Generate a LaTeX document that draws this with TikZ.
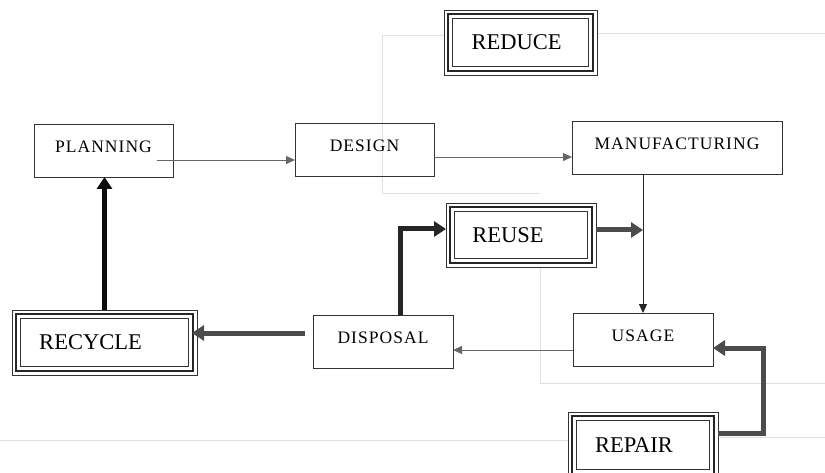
\documentclass[tikz,border=0pt]{standalone}
\usepackage{fontspec}
\setmainfont{Liberation Serif}
\newfontfamily\boxfont[LetterSpace=6]{Liberation Serif}
\usetikzlibrary{arrows.meta,calc}
\begin{document}
\begin{tikzpicture}[x=1pt,y=-1pt,
  every node/.style={inner sep=0pt,outer sep=0pt},
  smallbox/.style={draw=black!80,line width=0.9pt,minimum height=53pt,font=\boxfont\fontsize{17.5}{20}\selectfont},
  bigbox/.style={draw=black!80,line width=0.8pt,font=\fontsize{22.5}{26}\selectfont},
  thinarrow/.style={draw=black!60,line width=0.8pt,-{Triangle[length=9pt,width=8pt]}},
  thickarrow/.style={draw=black!70,line width=5pt,line join=miter,-{Triangle[length=12pt,width=15pt]}},
  faint/.style={draw=black!12,line width=0.8pt},
  inner1/.style={draw=black!85,line width=2.6pt},
  inner2/.style={draw=black!80,line width=0.8pt}]
\useasboundingbox (0,0) rectangle (825,473);
\clip (0,0) rectangle (825,473);
% faint background lines
\draw[faint] (444,35) -- (382,35) -- (382,193) -- (540,193);
\draw[faint] (597,33) -- (825,33);
\draw[faint] (540,267) -- (540,383) -- (825,383);
\draw[faint] (0,440) -- (568,440);
\draw[faint] (718,437) -- (825,437);
% plain boxes
\node[smallbox,minimum width=139pt] (plan) at (103.5,150.5) {\raisebox{8pt}{PLANNING}};
\node[smallbox,minimum width=139pt] (design) at (364.5,149.5) {\raisebox{8pt}{DESIGN}};
\node[smallbox,minimum width=210pt] (manu) at (677,147.5) {\raisebox{8pt}{MANUFACTURING}};
\node[smallbox,minimum width=140pt] (usage) at (643,339.5) {\raisebox{8pt}{USAGE}};
\node[smallbox,minimum width=140pt] (disp) at (383,341.5) {\raisebox{8pt}{DISPOSAL}};
% triple boxes
\node[bigbox,minimum width=153pt,minimum height=65pt] (reduce) at (520.5,42.5) {\hspace*{-8pt}REDUCE};
\node[bigbox,minimum width=150pt,minimum height=64pt] (reuse) at (521,235) {\hspace*{-26pt}REUSE};
\node[bigbox,minimum width=185pt,minimum height=65pt] (recycle) at (104.5,342.5) {\hspace*{-28pt}RECYCLE};
\node[bigbox,minimum width=150pt,minimum height=66pt] (repair) at (643,445) {\hspace*{-18pt}REPAIR};
\foreach \n in {reduce,reuse,recycle,repair}{
  \draw[inner1] ($(\n.north west)+(4,4)$) rectangle ($(\n.south east)+(-4,-4)$);
  \draw[inner2] ($(\n.north west)+(8.5,8.5)$) rectangle ($(\n.south east)+(-8.5,-8.5)$);
}
% thin connectors
\coordinate (p1) at (157,160);
\draw[thinarrow] (p1) -- (p1 -| design.west);
\coordinate (d1) at ([yshift=-7.5pt]design.east);
\draw[thinarrow] (d1) -- (d1 -| manu.west);
\draw[draw=black!85,line width=1pt,-{Triangle[length=9pt,width=8pt]}] (usage.north |- manu.south) -- (usage.north);
\coordinate (u1) at ([yshift=-10.5pt]usage.west);
\draw[thinarrow] (u1) -- (u1 -| disp.east);
% thick connectors
\coordinate (r1) at ([yshift=5pt]reuse.east);
\draw[thickarrow] (r1) -- (r1 -| usage.north);
\draw[thickarrow,draw=black!85] ([xshift=17pt]disp.north) |- ([yshift=6pt]reuse.west);
\coordinate (s1) at ([shift={(-8pt,8.5pt)}]disp.west);
\draw[thickarrow,shorten >=-5pt] (s1) -- (s1 -| recycle.east);
\draw[thickarrow,draw=black!95] (recycle.north) -- (recycle.north |- plan.south);
\draw[thickarrow] ([yshift=12pt]repair.east) -- ++(45,0) |- ([yshift=-8.5pt]usage.east);
\end{tikzpicture}
\end{document}
